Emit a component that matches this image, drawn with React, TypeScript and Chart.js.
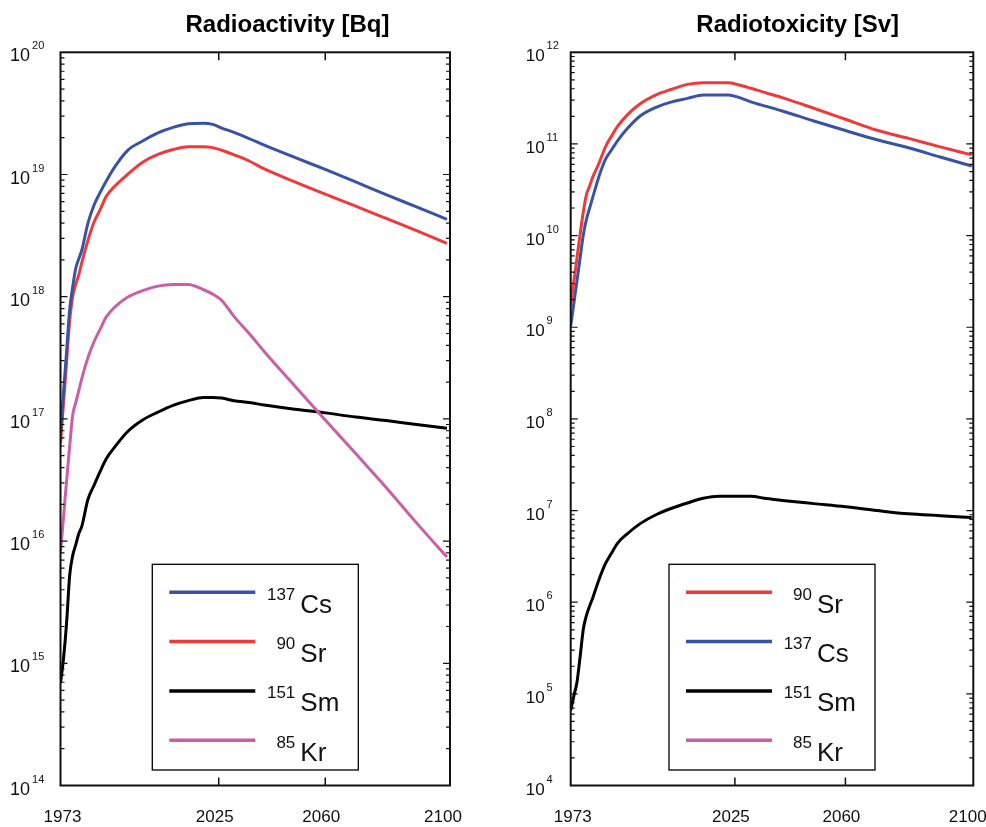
import React, { useEffect, useRef } from "react";
import { Chart, registerables } from "chart.js";

Chart.register(...registerables);

const FONT = '"Liberation Sans", Arial, Helvetica, sans-serif';

// Shared sampling years (x values)
const YEARS = [
  1973, 1974, 1975, 1976, 1977, 1978, 1979, 1980, 1982, 1984, 1986, 1988, 1991, 1995, 2000,
  2005, 2010, 2015, 2020, 2023, 2026, 2030, 2035, 2040, 2050, 2060, 2070, 2080, 2090, 2100,
];

// Radioactivity [Bq]
const ACT_CS137 = [
  7.6e16, 1.66e17, 3.55e17, 7.8e17, 1.2e18, 1.7e18, 2.04e18, 2.4e18, 3.98e18, 5.6e18, 7.1e18,
  8.8e18, 1.17e19, 1.57e19, 1.88e19, 2.19e19, 2.43e19, 2.6e19, 2.63e19, 2.57e19, 2.4e19, 2.21e19,
  1.97e19, 1.74e19, 1.38e19, 1.1e19, 8.7e18, 6.84e18, 5.43e18, 4.3e18,
];
const ACT_SR90 = [
  6.3e16, 1.35e17, 2.95e17, 6.3e17, 1.0e18, 1.26e18, 1.51e18, 1.9e18, 2.88e18, 4.07e18, 5.13e18,
  6.6e18, 8.1e18, 1.0e19, 1.26e19, 1.46e19, 1.6e19, 1.69e19, 1.69e19, 1.66e19, 1.58e19, 1.45e19,
  1.29e19, 1.11e19, 8.7e18, 6.9e18, 5.5e18, 4.37e18, 3.47e18, 2.73e18,
];
const ACT_SM151 = [
  6.9e14, 1.1e15, 2.14e15, 5.2e15, 7.6e15, 9.3e15, 1.15e16, 1.32e16, 2.19e16, 2.85e16, 3.7e16,
  4.7e16, 5.96e16, 7.85e16, 9.8e16, 1.135e17, 1.29e17, 1.41e17, 1.5e17, 1.5e17, 1.48e17, 1.41e17,
  1.36e17, 1.3e17, 1.2e17, 1.12e17, 1.035e17, 9.7e16, 9.0e16, 8.4e16,
];
const ACT_KR85 = [
  8.2e15, 1.58e16, 3.1e16, 5.9e16, 1.07e17, 1.35e17, 1.7e17, 2.14e17, 3.16e17, 4.27e17, 5.4e17,
  6.8e17, 8.3e17, 9.9e17, 1.12e18, 1.22e18, 1.26e18, 1.26e18, 1.14e18, 1.05e18, 9.3e17, 6.9e17,
  5.0e17, 3.55e17, 1.86e17, 9.8e16, 5.2e16, 2.75e16, 1.41e16, 7.4e15,
];

// Radiotoxicity [Sv]
const TOX_SR90 = [
  1.74e9, 3.16e9, 5.75e9, 1.05e10, 1.82e10, 2.82e10, 3.47e10, 4.37e10, 6.2e10, 9.3e10, 1.23e11,
  1.58e11, 2.09e11, 2.75e11, 3.44e11, 3.95e11, 4.47e11, 4.66e11, 4.66e11, 4.66e11, 4.42e11, 4.05e11,
  3.6e11, 3.2e11, 2.45e11, 1.86e11, 1.41e11, 1.15e11, 9.3e10, 7.6e10,
];
const TOX_CS137 = [
  1.03e9, 1.82e9, 3.24e9, 5.75e9, 1.02e10, 1.51e10, 2.0e10, 2.63e10, 4.47e10, 6.8e10, 8.7e10,
  1.1e11, 1.48e11, 2.02e11, 2.51e11, 2.88e11, 3.14e11, 3.42e11, 3.42e11, 3.42e11, 3.24e11, 2.88e11,
  2.57e11, 2.29e11, 1.78e11, 1.4e11, 1.11e11, 9.1e10, 7.2e10, 5.74e10,
];
const TOX_SM151 = [
  6.6e4, 9.5e4, 1.35e5, 2.57e5, 5.1e5, 7.2e5, 9.1e5, 1.12e6, 1.78e6, 2.63e6, 3.47e6, 4.47e6, 5.6e6,
  7.2e6, 9.0e6, 1.06e7, 1.21e7, 1.36e7, 1.43e7, 1.43e7, 1.43e7, 1.43e7, 1.35e7, 1.29e7, 1.19e7,
  1.1e7, 1.0e7, 9.2e6, 8.8e6, 8.4e6,
];

// Axis tick labels
const X_LABELS = [1973, 2025, 2060, 2100];
const X_INNER_TICKS = [2025, 2060];
const ACT_EXPONENTS = [14, 15, 16, 17, 18, 19, 20];
const TOX_EXPONENTS = [4, 5, 6, 7, 8, 9, 10, 11, 12];

type Iso = { mass: string; sym: string; color: string };
const CS: Iso = { mass: "137", sym: "Cs", color: "#3953a4" };
const SR: Iso = { mass: "90", sym: "Sr", color: "#ee3a3a" };
const SM: Iso = { mass: "151", sym: "Sm", color: "#000000" };
const KR: Iso = { mass: "85", sym: "Kr", color: "#c95fa6" };

const ACT_LEGEND = [CS, SR, SM, KR];
const TOX_LEGEND = [SR, CS, SM, KR];

type PanelProps = {
  canvasLeft: number;
  padding: { left: number; right: number; top: number; bottom: number };
  xMin: number;
  xMax: number;
  exps: number[];
  title: string;
  series: [Iso, number[]][];
  legend: Iso[];
  legendX: number;
  yLabelX: number;
  yFont: number;
};

const W = 493;
const H = 827;

function Panel(p: PanelProps) {
  const ref = useRef<HTMLCanvasElement | null>(null);

  useEffect(() => {
    const canvas = ref.current;
    if (!canvas) return;

    const decor = {
      id: "decor",
      afterDatasetsDraw(chart: any) {
        const ctx = chart.ctx as CanvasRenderingContext2D;
        const { left, right, top, bottom } = chart.chartArea;
        const xs = chart.scales.x;
        const ys = chart.scales.y;
        ctx.save();

        // y ticks (major + minor), inward on both sides
        ctx.strokeStyle = "#111";
        ctx.lineWidth = 1.2;
        ctx.beginPath();
        for (let i = 0; i < p.exps.length - 1; i++) {
          const e = p.exps[i];
          for (let k = 1; k <= 9; k++) {
            const py = ys.getPixelForValue(k * Math.pow(10, e));
            const len = k === 1 ? 7 : 4;
            ctx.moveTo(left, py);
            ctx.lineTo(left + len, py);
            ctx.moveTo(right, py);
            ctx.lineTo(right - len, py);
          }
        }
        ctx.stroke();

        // x ticks, inward top and bottom
        ctx.lineWidth = 1.5;
        ctx.beginPath();
        for (const t of X_INNER_TICKS) {
          const px = xs.getPixelForValue(t);
          ctx.moveTo(px, bottom);
          ctx.lineTo(px, bottom - 8);
          ctx.moveTo(px, top);
          ctx.lineTo(px, top + 8);
        }
        ctx.stroke();

        // frame
        ctx.lineWidth = 2;
        ctx.strokeRect(left, top, right - left, bottom - top);

        // y labels 10^n
        ctx.fillStyle = "#111";
        ctx.textBaseline = "alphabetic";
        ctx.textAlign = "left";
        for (const e of p.exps) {
          const py = ys.getPixelForValue(Math.pow(10, e));
          ctx.font = `${p.yFont}px ${FONT}`;
          ctx.fillText("10", p.yLabelX, py + 9);
          const w = ctx.measureText("10").width;
          ctx.font = `11px ${FONT}`;
          ctx.fillText(String(e), p.yLabelX + w + 2, py - 3);
        }

        // x labels
        ctx.font = `17px ${FONT}`;
        ctx.textAlign = "center";
        X_LABELS.forEach((t, i) => {
          const px = xs.getPixelForValue(t);
          ctx.fillText(String(t), px + (i === 0 ? 2 : -4), 822);
        });

        // title
        ctx.font = `bold 24px ${FONT}`;
        ctx.fillStyle = "#000";
        ctx.fillText(p.title, left + 227, 31.5);

        // legend
        const bx = p.legendX;
        const by = 564.3;
        const bw = 206;
        const bh = 205.7;
        ctx.fillStyle = "#fff";
        ctx.fillRect(bx, by, bw, bh);
        ctx.strokeStyle = "#000";
        ctx.lineWidth = 1.3;
        ctx.strokeRect(bx, by, bw, bh);
        p.legend.forEach((it, i) => {
          const ly = by + 28 + i * 49.3;
          ctx.strokeStyle = it.color;
          ctx.lineWidth = 3.5;
          ctx.beginPath();
          ctx.moveTo(bx + 17, ly);
          ctx.lineTo(bx + 103, ly);
          ctx.stroke();
          ctx.fillStyle = "#111";
          ctx.textAlign = "right";
          ctx.font = `17px ${FONT}`;
          ctx.fillText(it.mass, bx + 143, ly + 7.5);
          ctx.textAlign = "left";
          ctx.font = `26px ${FONT}`;
          ctx.fillText(it.sym, bx + 148, ly + 20.4);
        });

        ctx.restore();
      },
    };

    const chart = new Chart(canvas, {
      type: "line",
      data: {
        datasets: p.series.map(([iso, vals]) => ({
          label: iso.mass + iso.sym,
          data: YEARS.map((x, i) => ({ x, y: vals[i] })),
          borderColor: iso.color,
          backgroundColor: iso.color,
          borderWidth: 3,
          pointRadius: 0,
          cubicInterpolationMode: "monotone",
          fill: false,
        })),
      },
      options: {
        responsive: false,
        animation: false,
        devicePixelRatio: 1,
        layout: { padding: p.padding },
        plugins: {
          legend: { display: false },
          title: { display: false },
          tooltip: { enabled: false },
        },
        scales: {
          x: { type: "linear", min: p.xMin, max: p.xMax, display: false },
          y: {
            type: "logarithmic",
            min: Math.pow(10, p.exps[0]),
            max: Math.pow(10, p.exps[p.exps.length - 1]),
            display: false,
          },
        },
      },
      plugins: [decor],
    } as any);

    return () => chart.destroy();
  }, []);

  return (
    <canvas
      ref={ref}
      width={W}
      height={H}
      style={{ position: "absolute", left: p.canvasLeft, top: 0, width: W, height: H }}
    />
  );
}

export default function App() {
  return (
    <div
      style={{
        position: "absolute",
        left: 0,
        top: 0,
        width: 986,
        height: 827,
        background: "#fff",
        overflow: "hidden",
      }}
    >
      <Panel
        canvasLeft={0}
        padding={{ left: 60.5, right: 43, top: 52.3, bottom: 41.5 }}
        xMin={1973}
        xMax={2101}
        exps={ACT_EXPONENTS}
        title="Radioactivity [Bq]"
        series={[
          [CS, ACT_CS137],
          [SR, ACT_SR90],
          [KR, ACT_KR85],
          [SM, ACT_SM151],
        ]}
        legend={ACT_LEGEND}
        legendX={152.3}
        yLabelX={10}
        yFont={18}
      />
      <Panel
        canvasLeft={493}
        padding={{ left: 77.7, right: 12.7, top: 52.3, bottom: 41.5 }}
        xMin={1973}
        xMax={2100.5}
        exps={TOX_EXPONENTS}
        title="Radiotoxicity [Sv]"
        series={[
          [SR, TOX_SR90],
          [CS, TOX_CS137],
          [SM, TOX_SM151],
        ]}
        legend={TOX_LEGEND}
        legendX={176}
        yLabelX={32.7}
        yFont={17}
      />
    </div>
  );
}
